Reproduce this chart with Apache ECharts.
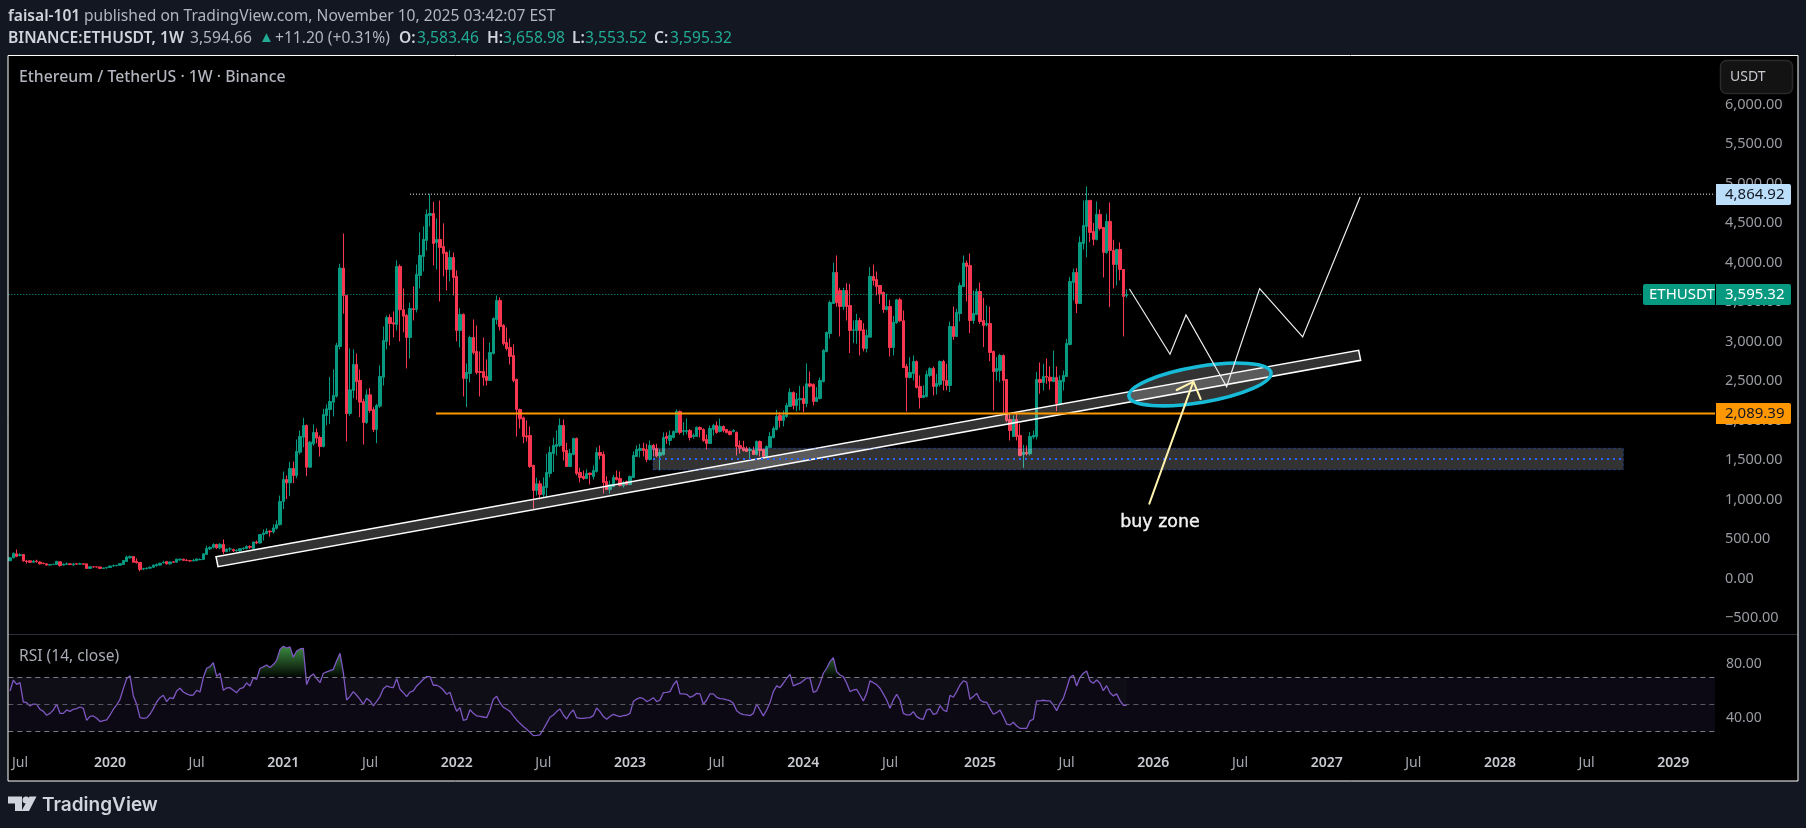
<!DOCTYPE html>
<html><head><meta charset="utf-8"><title>ETHUSDT</title>
<style>html,body{margin:0;padding:0;background:#131722;overflow:hidden}#c{width:1806px;height:828px}</style>
<script src="https://cdn.jsdelivr.net/npm/echarts@6/dist/echarts.min.js"></script></head>
<body><div id="c"></div><script>
// weekly candles, each row: [open, close, low, high]
const candles2019=[[225,262,220,272],[262,318,255,330],[312,280,270,367],[292,302,280,320],[304,222,212,310],[222,215,190,235],[224,205,200,228],[205,218,205,235],[222,216,200,238],[208,186,178,218],[194,190,180,200],[186,170,163,188],[170,178,165,183],[178,180,172,186],[178,218,175,222],[211,165,150,215],[170,182,165,190],[178,186,172,205],[186,176,170,192],[175,184,158,198],[186,182,172,190],[182,186,176,200],[186,180,176,190],[186,128,120,188],[128,148,122,155],[148,146,140,150],[147,146,140,150],[146,128,118,150],[128,134,122,136],[134,140,125,145]];
const candles2020=[[140,158,136,162],[158,162,150,178],[162,168,156,172],[168,188,160,192],[178,228,175,232],[215,272,212,290],[262,278,250,290],[278,205,205,280],[218,200,190,255],[203,114,90,205],[120,125,105,135],[125,131,115,140],[131,143,125,150],[143,170,138,175],[162,176,150,190],[170,193,160,200],[198,205,190,225],[214,185,178,218],[186,210,175,212],[210,206,196,218],[206,245,198,250],[235,245,225,250],[245,230,225,250],[232,228,218,245],[226,222,215,232],[222,228,218,250],[226,248,218,252],[238,240,232,255],[240,312,235,318],[305,380,300,415],[375,395,360,405],[395,430,380,445],[430,388,375,440],[388,432,370,448],[430,340,310,495],[340,372,330,380],[372,375,340,395],[365,352,335,378],[352,358,340,372],[350,378,335,385],[378,385,360,395],[380,405,370,420],[405,395,375,420],[380,462,375,465],[462,450,435,480],[450,556,440,560],[556,575,480,622],[570,600,560,635],[600,590,530,610],[590,640,570,685],[635,682,620,735],[682,975,670,1050]];
const candles2021=[[975,1253,880,1354],[1253,1211,1008,1304],[1211,1393,1042,1475],[1393,1304,1207,1481],[1304,1608,1270,1760],[1599,1798,1570,1874],[1789,1937,1663,2034],[1937,1409,1295,1950],[1409,1726,1400,1740],[1705,1848,1680,1950],[1848,1777,1713,1899],[1785,1671,1544,1810],[1671,2076,1660,2148],[2064,2148,1937,2203],[2139,2241,1954,2549],[2232,2317,2051,2646],[2308,2950,2290,2983],[2937,3929,2900,3984],[3929,3583,3351,4368],[3583,2089,1734,3590],[2089,2388,2060,2912],[2380,2709,2283,2900],[2709,2494,2262,2848],[2506,2232,2042,2646],[2241,1975,1696,2274],[1975,2325,1958,2393],[2325,2127,2100,2410],[2139,1886,1853,2169],[1886,2190,1713,2210],[2182,2557,2160,2696],[2549,3013,2443,3190],[3001,3304,2900,3330],[3304,3229,2950,3343],[3237,3220,3051,3380],[3216,3950,3140,4026],[3950,3402,3001,3975],[3402,3321,3115,3672],[3330,3051,2659,3350],[3051,3418,2785,3494],[3414,3405,3267,3697],[3406,3849,3368,3975],[3836,4089,3672,4381],[4077,4292,3887,4457],[4279,4609,4153,4672],[4596,4621,4457,4870],[4621,4241,3963,4769],[4254,4292,3912,4558],[4292,4191,3507,4786],[4203,4115,3824,4495],[4127,3912,3646,4140],[3912,4064,3760,4153],[4064,3811,3583,4126]];
const candles2022=[[3824,3140,3001,3900],[3140,3343,2925,3420],[3343,2532,2304,3355],[2532,2608,2169,2722],[2596,3051,2485,3075],[3051,2861,2836,3279],[2874,2608,2583,3203],[2621,2608,2304,2874],[2621,2545,2440,3051],[2558,2507,2443,2773],[2507,2861,2498,2988],[2849,3292,2836,3304],[3279,3520,3216,3583],[3520,3191,3140,3558],[3203,2975,2950,3220],[2988,2912,2887,3178],[2925,2811,2709,3039],[2823,2507,2485,2963],[2519,2139,1797,2530],[2139,2021,1899,2150],[2034,1798,1713,2050],[1806,1790,1734,2000],[1811,1418,1400,1925],[1431,1114,882,1440],[1114,1199,1051,1275],[1199,1064,1000,1240],[1064,1165,1020,1280],[1152,1342,1021,1580],[1330,1595,1280,1672],[1583,1684,1347,1781],[1672,1697,1557,1875],[1684,1937,1663,2026],[1937,1608,1494,2013],[1621,1418,1418,1718],[1418,1583,1418,1640],[1570,1773,1560,1782],[1773,1330,1305,1785],[1342,1279,1216,1401],[1292,1266,1250,1367],[1266,1330,1266,1380],[1334,1317,1190,1340],[1292,1368,1254,1431],[1355,1595,1340,1659],[1595,1558,1507,1684],[1570,1216,1076,1608],[1228,1127,1127,1292],[1127,1190,1076,1240],[1165,1279,1157,1313],[1279,1254,1240,1367],[1266,1178,1165,1355],[1178,1216,1152,1237],[1228,1190,1178,1240]];
const candles2023=[[1190,1292,1190,1304],[1279,1558,1279,1608],[1545,1634,1545,1684],[1621,1646,1532,1705],[1646,1621,1545,1718],[1634,1507,1473,1705],[1507,1684,1494,1747],[1684,1634,1545,1705],[1646,1553,1535,1705],[1553,1595,1368,1634],[1570,1785,1557,1849],[1798,1773,1705,1849],[1747,1811,1684,1875],[1785,1861,1773,1875],[1849,2115,1845,2140],[2115,1849,1823,2127],[1861,1874,1811,1980],[1861,1874,1823,2026],[1874,1785,1747,1891],[1798,1811,1768,1836],[1798,1912,1798,1925],[1912,1887,1785,1925],[1887,1747,1730,1900],[1760,1710,1633,1823],[1710,1899,1705,1937],[1887,1937,1811,1958],[1937,1849,1832,1988],[1861,1925,1849,2026],[1925,1874,1849,1937],[1887,1849,1836,1891],[1862,1823,1811,1874],[1861,1874,1849,1890],[1849,1671,1557,1862],[1684,1646,1583,1747],[1659,1621,1608,1743],[1646,1608,1608,1671],[1621,1634,1507,1663],[1621,1570,1570,1671],[1570,1735,1557,1747],[1735,1621,1545,1747],[1634,1545,1532,1642],[1545,1671,1532,1684],[1659,1798,1659,1853],[1785,1899,1773,1925],[1887,2051,1874,2136],[2064,2001,1912,2106],[2001,2064,1925,2127],[2051,2190,2034,2224],[2178,2355,2178,2406],[2355,2190,2140,2368],[2190,2267,2115,2348],[2262,2279,2127,2439]];
const candles2024=[[2279,2215,2106,2435],[2215,2464,2170,2722],[2464,2435,2418,2620],[2456,2241,2190,2470],[2241,2291,2241,2422],[2279,2507,2266,2545],[2494,2886,2481,2903],[2874,3114,2861,3127],[3102,3494,3038,3519],[3481,3874,3481,3998],[3874,3490,3440,4089],[3646,3443,3064,3680],[3443,3646,3400,3680],[3646,3443,3266,3738],[3456,3140,2853,3730],[3140,3148,2979,3266],[3140,3266,2971,3351],[3266,3140,2823,3300],[3148,2912,2874,3232],[2912,3076,2861,3148],[3055,3823,3051,3941],[3823,3773,3709,3975],[3785,3697,3583,3886],[3709,3604,3477,3709],[3621,3405,3363,3633],[3405,3443,3393,3604],[3443,2924,2810,3528],[2924,3245,2823,3325],[3237,3528,3224,3540],[3528,3262,3245,3553],[3262,2671,2663,3393],[2684,2545,2114,2717],[2545,2608,2532,2802],[2595,2747,2507,2823],[2747,2418,2405,2760],[2431,2291,2152,2570],[2291,2317,2283,2443],[2304,2583,2291,2633],[2570,2658,2549,2675],[2658,2431,2317,2684],[2431,2469,2329,2591],[2456,2747,2431,2760],[2747,2507,2380,2768],[2507,2443,2380,2718],[2443,3190,2359,3253],[3190,3064,3021,3443],[3064,3367,3055,3414],[3355,3709,3253,3747],[3697,3994,3688,4089],[3994,3950,3507,4026],[3963,3266,3106,4114],[3266,3355,3224,3646],[3342,3633,3334,3671]];
const candles2025=[[3633,3253,3224,3747],[3266,3203,2929,3553],[3211,3228,3190,3456],[3228,2861,2751,3443],[2874,2620,2127,2886],[2620,2658,2506,2802],[2633,2823,2485,2844],[2823,2507,2085,2836],[2519,2000,1979,2519],[2013,1873,1747,2085],[1798,2013,1790,2064],[2013,1798,1747,2101],[1811,1557,1545,1958],[1570,1595,1401,1692],[1595,1578,1557,1684],[1578,1798,1557,1853],[1790,1811,1768,1874],[1798,2520,1760,2612],[2520,2482,2338,2735],[2482,2558,2380,2718],[2558,2549,2465,2785],[2549,2499,2389,2684],[2494,2545,2486,2887],[2545,2216,2119,2684],[2203,2507,2190,2570],[2494,2570,2380,2633],[2558,2975,2549,3034],[2963,3760,2950,3815],[3748,3874,3520,3921],[3874,3482,3359,3930],[3482,4254,3477,4330],[4241,4469,4165,4786],[4457,4786,4064,4963],[4786,4381,4258,4786],[4393,4292,4216,4499],[4292,4609,4280,4773],[4609,4431,4406,4672],[4444,4127,3811,4448],[4127,4520,4110,4617],[4520,4153,3435,4760],[4153,3975,3672,4288],[3975,4165,3710,4174],[4165,3912,3773,4254],[3912,3570,3064,3917],[3583.46,3595.32,3553.52,3658.98]];
// weekly RSI(14)
const rsiA=[59.9,67.8,64.8,66,51.7,51.2,48.8,50.2,50,46.3,44.8,41.9,43.3,45.8,50,43.3,43.3,45.8,44.8,46.3,46.8,48,47,38.1,41.1,41.4,39.6,37.2,37.9,38.4,41.9,46.3,49.5,53.7,61.6,69,71.2,56.2,50,40.1,39.6,39.9,42.6,46.8,51.7,54.9,56.7,52,54.9,54.2,59.9,61.9,59.1,57.7,56.7,56.9,60.4,59.1,69.8,76.7,77.9,80.9,70.7,73,60.4,62.1,62.3,60.4,58.6,61.6,62.3,65.8,63.6,69.5,68.5,76.7,77.7,79.1,77.2,79.4,82.6,90.7];
const rsiB=[93,91.7,92.5,84.8,89.5,91,91.5,64.6,70.5,72.5,69,66,73,74,74.9,75.9,82.3,87.8,73.5,53.2,55.9,59.4,56.7,53.7,50,54.4,52.5,48.8,52.2,55.7,61.6,63.6,62.8,62.3,69,61.1,58.6,55.7,59.1,59.9,63.6,66,68.5,70.5,70.5,64.1,64.1,62.8,60.6,57.4,58.9,51.2];
const rsiC=[44.8,47.5,38.1,38.9,46,43.3,41.4,41.1,40.6,40.1,45.8,53.7,55.9,51.2,47.8,46.3,44.8,41.4,38.4,35.9,33.5,31.5,29.3,26.8,27,27.3,31.5,35.9,40.4,42.1,44.6,46.5,42.1,39.1,43.3,45.8,40.1,39.6,39.6,39.9,40.1,41.6,47.3,44.6,40.9,38.9,40.9,42.6,41.6,40.9,41.6,41.9];
const rsiD=[43.3,52,53.9,54.9,54.2,52,53.2,54.9,52,53.2,58.6,58.9,59.4,64.3,67.5,57.7,57.7,57.4,55.2,56.2,58.1,57.7,50,53.2,57.7,57.7,55.2,54.2,54,53.2,52.7,50.7,45.3,43.3,42.3,42.1,41.6,43.3,50.2,45.8,41.4,45.8,51.2,59.4,63.6,62.3,65.6,69.3,72.2,63.6,64.8,65.6];
const rsiE=[67.5,69.5,69.3,58.9,59.9,65.6,73,76.7,81.6,84.6,74.2,71.7,70.5,65.6,59.4,60.6,61.1,56.9,52.5,58.1,67.3,66,64.6,61.9,57.7,53.2,47,53.2,57.4,53.2,43.3,42.1,42.1,44.6,40.9,39.4,38.9,45.8,46.5,42.6,43.3,49,45.8,44.6,56.7,55.2,59.4,64.3,67.3,66.5,53.7,55.7,58.1];
const rsiF=[53.2,51.7,51.5,47,42.6,43.8,45.8,40.9,35.4,34.7,36.7,33.9,32.2,32.2,32.2,37.7,38.9,52.5,52.5,53,52.5,52.5,49.5,45.3,50.7,54.4,61.9,70,71.5,63.6,70,73,74.7,67.3,65.6,68,65.6,60.1,63.8,58.6,56.2,57.7,52.7,49.3,49.3];
// axis ticks
const priceTicks=[-500,0,500,1000,1500,2000,2500,3000,3500,4000,4500,5000,5500,6000];
const rsiTicks=[40,80];
const timeTickDates=['2019-07-01','2020-01-06','2020-07-06','2021-01-04','2021-07-05','2022-01-03','2022-07-04','2023-01-02','2023-07-03','2024-01-01','2024-07-01','2025-01-06','2025-07-07','2026-01-05','2026-07-06','2027-01-04','2027-07-05','2028-01-03','2028-07-03','2029-01-01'];
const timeTickLabels=['Jul','2020','Jul','2021','Jul','2022','Jul','2023','Jul','2024','Jul','2025','Jul','2026','Jul','2027','Jul','2028','Jul','2029'];
// drawings, as [bar index, price]
const highLevel=4864.92, lastClose=3595.32, orangeLevel=2089.39;
const channelCorners=[[61.8,276],[404.6,2889],[405.2,2762],[62.4,149]];
const forecastPath=[[335.9,3661],[348,2838],[352.8,3336],[365,2428],[374.9,3669],[387.8,3057],[405,4826]];
const arrowShaft=[[341.8,947],[355,2491]];
const arrowHead=[[350,2386],[355,2491],[357.2,2272]];
const buyEllipse={center:[357,2456],radii:[21.6,228]};
const supportZone=[[192.9,1648],[484,1377]];
const supportMid=1512;
const buyLabelAt=[345,706];

const FONT='"Noto Sans"';
const GREEN='#089981',RED='#F7374F',TEAL='#22AB94',GREY='#B2B5BE';
const N=512, LEFT=8.33, RIGHT_EDGE=1715;
const candles=[].concat(candles2019,candles2020,candles2021,candles2022,candles2023,candles2024,candles2025);
const rsi=[].concat(rsiA,rsiB,rsiC,rsiD,rsiE,rsiF);
const weeks=[];
for(let i=0;i<N;i++){const d=new Date(Date.UTC(2019,5,10+7*i));weeks.push(d.toISOString().slice(0,10));}
const fmtPrice=v=>(v<0?'\u2212':'')+Math.abs(v).toLocaleString('en-US',{minimumFractionDigits:2,maximumFractionDigits:2});
const rightEnd=N-0.5;
const seg=(name,pts,color,width,type)=>({type:'line',name,xAxisIndex:1,yAxisIndex:0,symbol:'none',silent:true,z:5,animation:false,
  data:pts,lineStyle:{color,width,type}});
const hline=(name,p,x0,x1,color,width,type)=>seg(name,[[x0,p],[x1,p]],color,width,type);
const path=(name,pts,color,width)=>({type:'line',name,xAxisIndex:1,yAxisIndex:0,symbol:'none',silent:true,z:7,animation:false,
  data:pts,lineStyle:{color,width,cap:'round',join:'miter'}});
const tag=(price,text,bg,fg,withName)=>({type:'custom',xAxisIndex:1,yAxisIndex:0,silent:true,z:20,clip:false,animation:false,data:[[0,price]],
  renderItem:(p,api)=>{const y=Math.floor(api.coord([0,price])[1])+0.5;const ch=[
    {type:'rect',shape:{x:1716,y:y-10.5,width:75,height:21,r:[0,2,2,0]},style:{fill:bg}},
    {type:'text',style:{text,x:1725,y:y,fill:fg,font:'15px '+FONT,textVerticalAlign:'middle'}}];
    if(withName){ch.push({type:'rect',shape:{x:1643,y:y-10.5,width:72,height:21,r:[2,0,0,2]},style:{fill:bg}},
      {type:'text',style:{text:withName,x:1649,y:y,fill:fg,font:'15px '+FONT,textVerticalAlign:'middle'}});}
    return {type:'group',children:ch};}});
const hdr=(x,y,text,fill,font)=>({type:'text',z:31,silent:true,x,y,style:{text,fill,font:font+' '+FONT,verticalAlign:'middle'}});
const B='600 15.6px',R='15.6px';
const ZONE_EDGE='rgba(41,98,255,0.4)';
const option={
 animation:false,backgroundColor:'#131722',
 textStyle:{fontFamily:FONT},
 graphic:[
  {type:'rect',z:-100,silent:true,shape:{x:8,y:55,width:1790,height:726},style:{fill:'#000'}},
  {type:'line',z:30,silent:true,shape:{x1:8,y1:634.5,x2:1798,y2:634.5},style:{stroke:'#2a2e39',lineWidth:1}},
  {type:'rect',z:31,silent:true,shape:{x:8,y:55.5,width:1790,height:725.5},style:{fill:'none',stroke:'#fff',lineWidth:1}},
  hdr(8,17,'faisal-101','#D1D4DC',B),
  hdr(84,17,'published on TradingView.com, November 10, 2025 03:42:07 EST',GREY,R),
  hdr(8,39,'BINANCE:ETHUSDT, 1W','#D1D4DC','600 15.7px'),
  hdr(190,39,'3,594.66',GREY,R),
  hdr(259,38,'▲',TEAL,'15px'),
  hdr(275,39,'+11.20 (+0.31%)',GREY,R),
  hdr(399,39,'O:','#D1D4DC',B), hdr(417,39,'3,583.46',TEAL,R),
  hdr(487,39,'H:','#D1D4DC',B), hdr(503,39,'3,658.98',TEAL,R),
  hdr(572,39,'L:','#D1D4DC',B), hdr(585,39,'3,553.52',TEAL,R),
  hdr(654,39,'C:','#D1D4DC',B), hdr(670,39,'3,595.32',TEAL,R),
  hdr(19,77,'Ethereum / TetherUS · 1W · Binance','#B2B5BE','500 15.8px'),
  hdr(19,657,'RSI (14, close)','#A8ABB4','15.6px'),
  {type:'rect',z:31,silent:true,shape:{x:1720.5,y:60.5,width:72,height:33,r:6},style:{fill:'#131313',stroke:'#2a2a2a',lineWidth:1.5}},
  {type:'text',z:32,silent:true,x:1730,y:77,style:{text:'USDT',fill:'#C8CAD0',font:'14px '+FONT,verticalAlign:'middle'}},
  {type:'polygon',z:31,silent:true,shape:{points:[[8,796.5],[22,796.5],[22,811],[15,811],[15,803.5],[8,803.5]]},style:{fill:'#D1D4DC'}},
  {type:'circle',z:31,silent:true,shape:{cx:26,cy:800,r:3.5},style:{fill:'#D1D4DC'}},
  {type:'polygon',z:31,silent:true,shape:{points:[[29,811],[21.5,811],[29.5,796.5],[36.5,796.5]]},style:{fill:'#D1D4DC'}},
  {type:'text',z:31,silent:true,x:42,y:805,style:{text:'TradingView',fill:'#D1D4DC',font:'600 19px Inter',verticalAlign:'middle'}}
 ],
 grid:[{left:LEFT,width:RIGHT_EDGE-LEFT,top:25.5,height:632,containLabel:false},{left:LEFT,width:RIGHT_EDGE-LEFT,top:636.8,height:108,containLabel:false}],
 xAxis:[
  {type:'category',gridIndex:0,data:weeks,show:false,boundaryGap:true},
  {type:'value',gridIndex:0,min:-0.5,max:rightEnd,show:false},
  {type:'category',gridIndex:1,data:weeks,boundaryGap:true,axisLine:{show:false},axisTick:{show:false},splitLine:{show:false},
   axisLabel:{margin:11,fontSize:14,color:GREY,fontFamily:FONT,hideOverlap:false,
    interval:(i,v)=>timeTickDates.includes(v),
    formatter:v=>{const k=timeTickDates.indexOf(v);if(k<0)return'';const t=timeTickLabels[k];return t==='Jul'?'{m|'+t+'}':'{y|'+t+'}';},
    rich:{m:{fontSize:14,color:'#A4A7B0',fontFamily:FONT},y:{fontSize:14,fontWeight:600,color:'#C8CAD0',fontFamily:FONT}}}}
 ],
 yAxis:[
  {type:'value',gridIndex:0,position:'right',min:-1000,max:7000,interval:500,axisLine:{show:false},axisTick:{show:false},splitLine:{show:false},
   axisLabel:{margin:10,color:'#9A9CA3',fontSize:14.5,fontFamily:FONT,showMinLabel:false,showMaxLabel:false,padding:[0,0,2,0],
    formatter:v=>priceTicks.includes(v)?fmtPrice(v):''}},
  {type:'value',gridIndex:1,position:'right',min:20,max:100,interval:20,axisLine:{show:false},axisTick:{show:false},splitLine:{show:false},
   axisLabel:{margin:11,color:'#9A9CA3',fontSize:14,fontFamily:FONT,formatter:v=>rsiTicks.includes(v)?v.toFixed(2):''}}
 ],
 series:[
  hline('last close',lastClose,-0.5,rightEnd,'#0AA98C',1,[1,2]),
  {type:'candlestick',name:'ETHUSDT',xAxisIndex:0,yAxisIndex:0,data:candles,barWidth:2.6,z:3,silent:true,animation:false,
   itemStyle:{color:GREEN,color0:RED,borderColor:GREEN,borderColor0:RED,borderWidth:1}},
  {type:'custom',name:'channel',xAxisIndex:1,yAxisIndex:0,silent:true,z:4,clip:false,animation:false,data:[channelCorners[0]],
   renderItem:(p,api)=>({type:'polygon',shape:{points:channelCorners.map(c=>api.coord(c))},style:{fill:'rgba(255,255,255,0.2)',stroke:'#fff',lineWidth:1.5,lineJoin:'miter'}})},
  {type:'custom',name:'zone',xAxisIndex:1,yAxisIndex:0,silent:true,z:4,clip:false,animation:false,data:[supportZone[0]],
   renderItem:(p,api)=>{const a=api.coord(supportZone[0]),b=api.coord(supportZone[1]);return {type:'rect',shape:{x:a[0],y:a[1],width:b[0]-a[0],height:b[1]-a[1]},style:{fill:'rgba(255,255,255,0.2)'}};}},
  hline('zone top',supportZone[0][1],supportZone[0][0],supportZone[1][0],ZONE_EDGE,1,[3,2]),
  hline('zone bottom',supportZone[1][1],supportZone[0][0],supportZone[1][0],ZONE_EDGE,1,[3,2]),
  seg('zone left',[[supportZone[0][0],supportZone[0][1]],[supportZone[0][0],supportZone[1][1]]],ZONE_EDGE,1,[3,2]),
  seg('zone right',[[supportZone[1][0],supportZone[0][1]],[supportZone[1][0],supportZone[1][1]]],ZONE_EDGE,1,[3,2]),
  hline('zone mid',supportMid,supportZone[0][0],supportZone[1][0],'#2962FF',2,[2,4]),
  hline('all time high',highLevel,120,rightEnd,'#F0F6FD',1,[1,2]),
  hline('support',orangeLevel,127.8,rightEnd,'#FF9800',2,'solid'),
  {type:'custom',name:'buy ellipse',xAxisIndex:1,yAxisIndex:0,silent:true,z:6,clip:false,animation:false,data:[buyEllipse.center],
   renderItem:(p,api)=>{const c=api.coord(buyEllipse.center),s=api.size(buyEllipse.radii);return {type:'ellipse',x:c[0],y:c[1],rotation:9.5*Math.PI/180,originX:0,originY:0,shape:{cx:0,cy:0,rx:s[0],ry:s[1]},style:{fill:'rgba(255,255,255,0.2)',stroke:'#17BBD8',lineWidth:3.6}};}},
  path('forecast',forecastPath,'#EDEDED',1.2),
  path('arrow shaft',arrowShaft,'#FFF3B0',2),
  path('arrow head',arrowHead,'#FFF3B0',2),
  {type:'custom',name:'buy zone label',xAxisIndex:1,yAxisIndex:0,silent:true,z:8,clip:false,animation:false,data:[buyLabelAt],
   renderItem:(p,api)=>{const c=api.coord(buyLabelAt);return {type:'text',style:{text:'buy zone',x:c[0],y:c[1],fill:'#F2F2F2',stroke:'#F2F2F2',lineWidth:0.4,font:'17.4px "DejaVu Sans"',textAlign:'center',textVerticalAlign:'middle'}};}},
  {type:'line',name:'RSI',xAxisIndex:2,yAxisIndex:1,data:rsi,symbol:'none',silent:true,z:4,animation:false,
   lineStyle:{color:'#7E57C2',width:1.3},
   areaStyle:{origin:70,opacity:1,color:{type:'linear',global:true,x:0,y:646,x2:0,y2:677.3,colorStops:[{offset:0,color:'rgba(76,175,80,0.8)'},{offset:1,color:'rgba(76,175,80,0.03)'}]}},
   markArea:{silent:true,itemStyle:{color:'rgba(126,87,194,0.1)'},data:[[{yAxis:70},{yAxis:30}]]},
   markLine:{silent:true,symbol:'none',label:{show:false},animation:false,lineStyle:{color:'#787B86',width:1,type:[5,4]},data:[{yAxis:70},{yAxis:50,lineStyle:{color:'#5a5868',width:1,type:[5,4]}},{yAxis:30}]}},
  tag(highLevel,fmtPrice(highLevel),'#BBDEFB','#131722'),
  tag(orangeLevel,fmtPrice(orangeLevel),'#FF9800','#131722'),
  tag(lastClose,fmtPrice(lastClose),GREEN,'#FFFFFF','ETHUSDT')
 ]
};
const chart=echarts.init(document.getElementById('c'),null,{renderer:'canvas'});
chart.setOption(option);
</script></body></html>
